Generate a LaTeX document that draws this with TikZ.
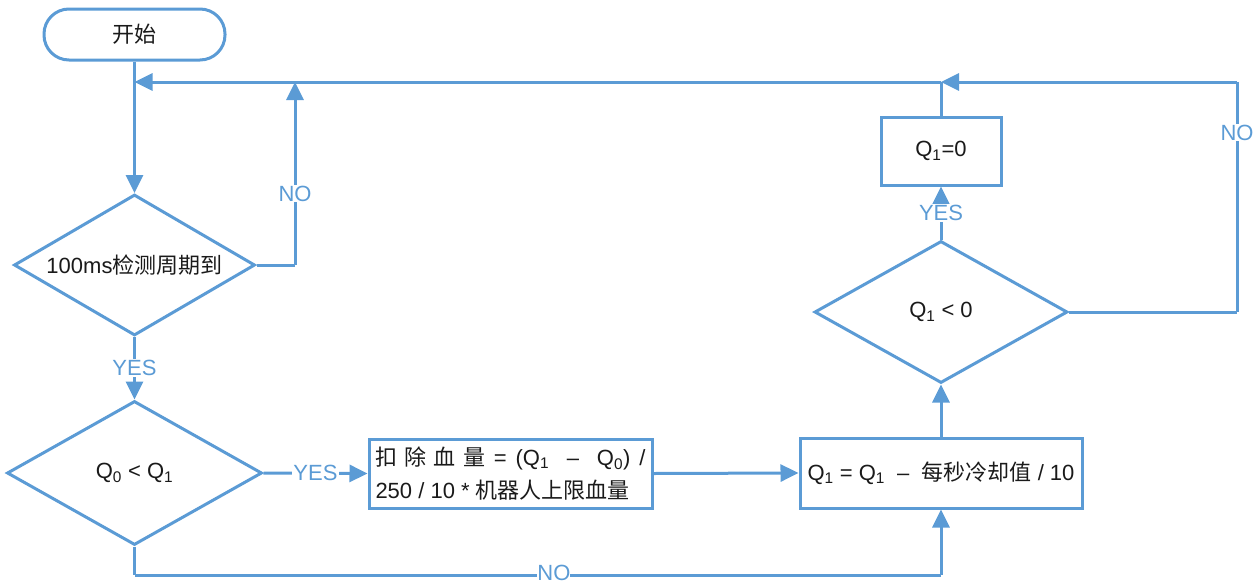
\documentclass[tikz,border=0pt]{standalone}
\usepackage{fontspec}
\setmainfont{Liberation Sans}
\newfontfamily\cjk{Noto Sans CJK SC}
\usetikzlibrary{shapes.geometric,arrows.meta}
\definecolor{fc}{HTML}{5B9BD5}
\definecolor{tc}{HTML}{1A1A1A}
\begin{document}
\begin{tikzpicture}[x=1pt,y=-1pt,
 line width=3pt,
 every node/.style={font=\fontsize{22}{27}\selectfont, text=tc},
 box/.style={draw=fc, rectangle, inner sep=0pt},
 dia/.style={draw=fc, diamond, inner sep=0pt},
 lab/.style={text=fc, fill=white, inner sep=1pt},
 conn/.style={draw=fc, line width=3pt},
 arr/.style={conn, -{Triangle[length=18pt,width=17pt]}}]
\useasboundingbox (0,0) rectangle (1253,584);
% nodes
\node[box, rounded corners=25pt, minimum width=181pt, minimum height=51pt] (start) at (134.5,34.5) {{\cjk 开始}};
\node[dia, minimum width=241pt, minimum height=141pt] (d1) at (134.5,265) {};
\node (d1t) at (d1) {100ms{\cjk 检测周期到}};
\node[dia, minimum width=255pt, minimum height=144pt] (d2) at (134.5,473) {};
\node (d2t) at (d2) {Q\textsubscript{0} < Q\textsubscript{1}};
\node[box, minimum width=283pt, minimum height=69pt] (b2) at (510.5,473.5) {};
\node[align=left, font=\fontsize{22}{33}\selectfont] (b2t) at (b2) {\makebox[270pt][s]{{\cjk 扣 除 血 量} = (Q\textsubscript{1} \ – \ Q\textsubscript{0}) /}\\250 / 10 * {\cjk 机器人上限血量}};
\node[box, minimum width=282pt, minimum height=70pt] (b3) at (941,473) {Q\textsubscript{1} = Q\textsubscript{1} \ – \ {\cjk 每秒冷却值} / 10};
\node[dia, minimum width=253pt, minimum height=142pt] (d3) at (941,312) {};
\node (d3t) at (d3) {Q\textsubscript{1} < 0};
\node[box, minimum width=120pt, minimum height=68pt] (b1) at (941,151) {Q\textsubscript{1}=0};
% junctions
\coordinate (j1) at (134.5,82);
\coordinate (j2) at (941,82);
\coordinate (n1) at (295,265);
\coordinate (n1t) at (295,82);
\coordinate (n2a) at (134.5,575);
\coordinate (n2b) at (941,575);
\coordinate (n3a) at (1237,312);
\coordinate (n3b) at (1237,82);
% connectors
\draw[arr] (start.south) -- (d1.north);
\draw[conn] (d1.east) -- (n1);
\draw[arr] (n1) -- node[lab, pos=0.39] (no1) {NO} (n1t);
\draw[arr] (d1.south) -- node[lab] (yes1) {YES} (d2.north);
\draw[arr] (d2.east) -- node[lab] (yes2) {YES} (b2.west);
\draw[arr] (b2.east) -- (b3.west);
\draw[conn] (d2.south) -- (n2a);
\draw[conn] (n2a) -- node[lab, pos=0.52, text depth=0pt, text height=15pt, inner sep=0pt, yshift=2.5pt] (no2) {NO} (n2b);
\draw[arr] (n2b) -- (b3.south);
\draw[arr] (b3.north) -- (d3.south);
\draw[arr] (d3.north) -- node[lab] (yes3) {YES} (b1.south);
\draw[conn] (b1.north) -- (j2);
\draw[conn] (d3.east) -- (n3a);
\draw[conn] (n3a) -- node[lab, pos=0.78] (no3) {NO} (n3b);
\draw[arr] (n3b) -- (j2);
\draw[arr] (j2) -- (j1);
\end{tikzpicture}
\end{document}
